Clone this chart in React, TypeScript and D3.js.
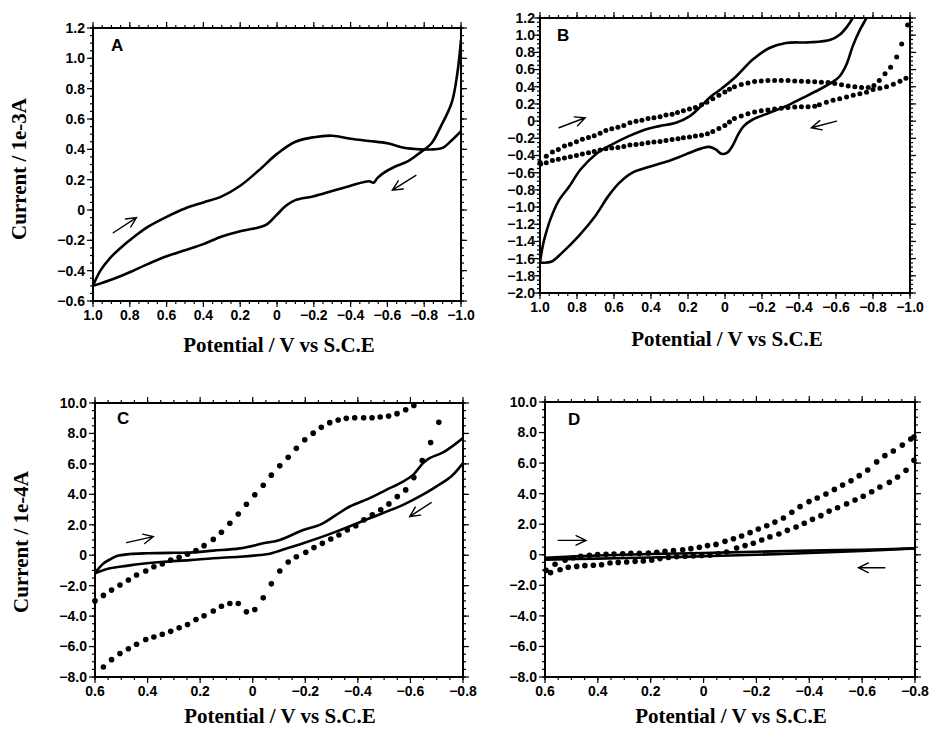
import React from 'react'
import * as d3 from 'd3'

type Pt = [number, number]

// ---- tick labels ----
const abXTicks = [1.0, 0.8, 0.6, 0.4, 0.2, 0, -0.2, -0.4, -0.6, -0.8, -1.0]
const aYTicks = [1.2, 1.0, 0.8, 0.6, 0.4, 0.2, 0, -0.2, -0.4, -0.6]
const bYTicks = [1.2, 1.0, 0.8, 0.6, 0.4, 0.2, 0, -0.2, -0.4, -0.6, -0.8, -1.0, -1.2, -1.4, -1.6, -1.8, -2.0]
const cdXTicks = [0.6, 0.4, 0.2, 0, -0.2, -0.4, -0.6, -0.8]
const cdYTicks = [10, 8, 6, 4, 2, 0, -2, -4, -6, -8]

// ---- panel A (current in 1e-3 A) ----
const aForward: Pt[] = [[1.0,-0.5],[0.96,-0.40],[0.91,-0.32],[0.85,-0.25],[0.78,-0.18],[0.7,-0.11],[0.6,-0.045],[0.5,0.01],[0.4,0.05],[0.3,0.09],[0.2,0.16],[0.1,0.26],[0.0,0.37],[-0.1,0.45],[-0.2,0.48],[-0.3,0.49],[-0.4,0.47],[-0.5,0.455],[-0.6,0.44],[-0.69,0.41],[-0.78,0.40],[-0.85,0.40],[-0.9,0.41],[-0.95,0.46],[-1.0,0.52]]
const aReverse: Pt[] = [[-1.0,1.12],[-0.98,0.90],[-0.95,0.71],[-0.89,0.55],[-0.84,0.44],[-0.78,0.38],[-0.71,0.32],[-0.64,0.285],[-0.58,0.245],[-0.545,0.21],[-0.525,0.18],[-0.5,0.19],[-0.4,0.16],[-0.3,0.125],[-0.2,0.09],[-0.1,0.065],[-0.05,0.03],[0.0,-0.03],[0.055,-0.095],[0.1,-0.115],[0.16,-0.13],[0.2,-0.14],[0.3,-0.175],[0.4,-0.225],[0.5,-0.265],[0.6,-0.305],[0.7,-0.355],[0.8,-0.41],[0.89,-0.455],[1.0,-0.5]]
const aArrows = [[0.89,-0.15,0.764,-0.05],[-0.755,0.228,-0.627,0.131]]

// ---- panel B (current in 1e-3 A) ----
const bForward: Pt[] = [[1.0,-1.645],[0.985,-1.45],[0.97,-1.32],[0.94,-1.12],[0.9,-0.93],[0.84,-0.755],[0.78,-0.56],[0.69,-0.37],[0.61,-0.27],[0.52,-0.174],[0.43,-0.097],[0.355,-0.058],[0.265,-0.019],[0.19,0.058],[0.13,0.174],[0.075,0.29],[0.03,0.36],[-0.06,0.52],[-0.15,0.716],[-0.24,0.851],[-0.33,0.91],[-0.46,0.917],[-0.57,0.948],[-0.62,1.006],[-0.66,1.10],[-0.69,1.2],[-0.72,1.34]]
const bReverse: Pt[] = [[-0.80,1.34],[-0.765,1.2],[-0.73,1.064],[-0.69,0.87],[-0.66,0.677],[-0.62,0.522],[-0.58,0.453],[-0.51,0.368],[-0.42,0.27],[-0.33,0.174],[-0.24,0.097],[-0.15,0.019],[-0.1,-0.06],[-0.07,-0.16],[-0.04,-0.29],[-0.01,-0.37],[0.02,-0.38],[0.05,-0.33],[0.085,-0.30],[0.13,-0.32],[0.17,-0.35],[0.25,-0.42],[0.30,-0.46],[0.39,-0.52],[0.5,-0.6],[0.57,-0.716],[0.63,-0.87],[0.70,-1.10],[0.79,-1.335],[0.88,-1.53],[0.94,-1.637],[1.0,-1.645]]
const bDotsForward: Pt[] = [[1.0,-0.48],[0.966,-0.41],[0.933,-0.36],[0.901,-0.33],[0.868,-0.29],[0.836,-0.27],[0.803,-0.24],[0.771,-0.21],[0.738,-0.19],[0.707,-0.17],[0.675,-0.14],[0.644,-0.11],[0.612,-0.09],[0.579,-0.07],[0.547,-0.05],[0.514,-0.02],[0.481,0.0],[0.449,0.01],[0.416,0.03],[0.384,0.04],[0.351,0.05],[0.319,0.07],[0.286,0.08],[0.257,0.1],[0.225,0.12],[0.192,0.14],[0.16,0.16],[0.127,0.19],[0.098,0.22],[0.066,0.26],[0.033,0.3],[0.001,0.34],[-0.024,0.37],[-0.051,0.40],[-0.088,0.425],[-0.124,0.445],[-0.16,0.46],[-0.196,0.468],[-0.232,0.472],[-0.268,0.472],[-0.304,0.472],[-0.341,0.472],[-0.377,0.468],[-0.413,0.464],[-0.449,0.46],[-0.485,0.457],[-0.521,0.453],[-0.557,0.449],[-0.593,0.437],[-0.63,0.422],[-0.666,0.41],[-0.702,0.40],[-0.738,0.39],[-0.774,0.39],[-0.805,0.414],[-0.834,0.472],[-0.865,0.55],[-0.895,0.627],[-0.928,0.747],[-0.955,0.898],[-0.987,1.12]]
const bDotsReverse: Pt[] = [[-0.978,0.50],[-0.946,0.464],[-0.91,0.43],[-0.873,0.40],[-0.837,0.383],[-0.80,0.367],[-0.765,0.337],[-0.729,0.32],[-0.693,0.30],[-0.657,0.28],[-0.62,0.26],[-0.584,0.244],[-0.548,0.22],[-0.51,0.19],[-0.485,0.174],[-0.449,0.166],[-0.413,0.166],[-0.377,0.165],[-0.34,0.158],[-0.304,0.15],[-0.268,0.14],[-0.232,0.13],[-0.196,0.12],[-0.16,0.105],[-0.124,0.085],[-0.088,0.06],[-0.051,0.03],[-0.024,-0.01],[0.001,-0.05],[0.033,-0.085],[0.066,-0.12],[0.095,-0.147],[0.127,-0.163],[0.16,-0.174],[0.192,-0.186],[0.225,-0.194],[0.254,-0.205],[0.286,-0.213],[0.319,-0.224],[0.351,-0.236],[0.384,-0.244],[0.416,-0.252],[0.449,-0.263],[0.481,-0.271],[0.514,-0.279],[0.547,-0.294],[0.579,-0.306],[0.612,-0.313],[0.644,-0.321],[0.675,-0.337],[0.707,-0.352],[0.738,-0.368],[0.771,-0.383],[0.803,-0.399],[0.836,-0.414],[0.868,-0.43],[0.901,-0.445],[0.933,-0.457],[0.966,-0.484],[0.996,-0.5]]
const bArrows = [[0.897,-0.077,0.756,0.039],[-0.603,0.0,-0.467,-0.077]]

// ---- panel C (current in 1e-4 A) ----
const cUpper: Pt[] = [[0.6,-1.19],[0.585,-0.85],[0.568,-0.54],[0.54,-0.25],[0.517,-0.05],[0.467,0.08],[0.40,0.13],[0.3,0.16],[0.239,0.17],[0.15,0.3],[0.049,0.45],[-0.04,0.78],[-0.103,1.0],[-0.192,1.66],[-0.255,1.99],[-0.318,2.65],[-0.369,3.2],[-0.445,3.75],[-0.508,4.29],[-0.572,4.84],[-0.61,5.28],[-0.648,6.05],[-0.673,6.38],[-0.724,6.75],[-0.8,7.7]]
const cLower: Pt[] = [[0.6,-1.19],[0.543,-0.86],[0.48,-0.7],[0.429,-0.58],[0.35,-0.45],[0.239,-0.32],[0.15,-0.2],[0.049,-0.1],[-0.03,0.02],[-0.065,0.1],[-0.103,0.3],[-0.192,0.78],[-0.318,1.55],[-0.445,2.43],[-0.572,3.31],[-0.635,3.86],[-0.698,4.51],[-0.755,5.17],[-0.8,6.05]]
const cDotsForward: Pt[] = [[0.6,-3.0],[0.568,-2.64],[0.537,-2.29],[0.505,-1.96],[0.473,-1.63],[0.442,-1.30],[0.407,-1.04],[0.376,-0.76],[0.344,-0.58],[0.312,-0.32],[0.280,-0.14],[0.248,0.06],[0.216,0.30],[0.185,0.63],[0.150,1.04],[0.119,1.51],[0.087,2.10],[0.055,2.71],[0.024,3.35],[-0.008,3.97],[-0.040,4.60],[-0.071,5.26],[-0.103,5.87],[-0.135,6.44],[-0.166,7.02],[-0.198,7.59],[-0.230,8.02],[-0.261,8.40],[-0.293,8.71],[-0.325,8.88],[-0.356,8.99],[-0.388,9.03],[-0.422,9.03],[-0.454,9.03],[-0.485,9.08],[-0.517,9.14],[-0.549,9.30],[-0.582,9.56],[-0.613,9.84]]
const cDotsReverse: Pt[] = [[-0.708,8.73],[-0.677,7.41],[-0.645,6.22],[-0.613,5.10],[-0.582,4.29],[-0.550,3.85],[-0.518,3.37],[-0.487,2.98],[-0.455,2.65],[-0.423,2.32],[-0.392,1.94],[-0.360,1.66],[-0.328,1.33],[-0.297,1.07],[-0.265,0.78],[-0.233,0.50],[-0.202,0.19],[-0.166,-0.10],[-0.135,-0.45],[-0.103,-1.04],[-0.071,-1.88],[-0.040,-2.80],[-0.008,-3.57],[0.024,-3.72],[0.055,-3.17],[0.087,-3.17],[0.119,-3.35],[0.150,-3.66],[0.185,-3.98],[0.216,-4.22],[0.248,-4.55],[0.280,-4.77],[0.312,-5.00],[0.344,-5.19],[0.376,-5.37],[0.407,-5.54],[0.442,-5.85],[0.473,-6.14],[0.505,-6.46],[0.537,-6.86],[0.568,-7.34]]
const cArrows = [[0.48,0.83,0.378,1.22],[-0.679,3.46,-0.597,2.54]]

// ---- panel D (current in 1e-4 A) ----
const dUpper: Pt[] = [[0.6,-0.2],[0.4,-0.05],[0.2,0.05],[0.0,0.12],[-0.2,0.2],[-0.4,0.27],[-0.6,0.33],[-0.8,0.42]]
const dLower: Pt[] = [[0.6,-0.32],[0.4,-0.25],[0.2,-0.18],[0.0,-0.1],[-0.2,0.0],[-0.4,0.12],[-0.6,0.25],[-0.8,0.42]]
const dDotsForward: Pt[] = [[0.596,-1.02],[0.562,-0.62],[0.524,-0.36],[0.493,-0.19],[0.465,-0.10],[0.432,-0.04],[0.401,0.01],[0.369,0.03],[0.339,0.05],[0.306,0.07],[0.275,0.09],[0.243,0.09],[0.209,0.12],[0.177,0.16],[0.146,0.22],[0.114,0.27],[0.079,0.33],[0.048,0.40],[0.016,0.49],[-0.015,0.60],[-0.047,0.68],[-0.081,0.88],[-0.113,1.05],[-0.144,1.23],[-0.176,1.45],[-0.207,1.69],[-0.239,1.90],[-0.270,2.14],[-0.302,2.41],[-0.334,2.78],[-0.365,3.15],[-0.399,3.48],[-0.430,3.72],[-0.463,3.98],[-0.495,4.28],[-0.526,4.57],[-0.558,4.85],[-0.589,5.18],[-0.621,5.55],[-0.655,6.08],[-0.686,6.49],[-0.718,6.79],[-0.752,7.18],[-0.784,7.58],[-0.796,7.71]]
const dDotsReverse: Pt[] = [[-0.796,6.18],[-0.766,5.53],[-0.734,5.09],[-0.703,4.74],[-0.667,4.44],[-0.636,4.13],[-0.604,3.83],[-0.573,3.59],[-0.541,3.33],[-0.507,3.08],[-0.475,2.86],[-0.444,2.56],[-0.412,2.32],[-0.381,2.06],[-0.350,1.82],[-0.317,1.60],[-0.285,1.36],[-0.251,1.17],[-0.220,0.97],[-0.188,0.75],[-0.157,0.60],[-0.125,0.44],[-0.087,0.18],[-0.056,0.07],[-0.024,-0.02],[0.007,-0.04],[0.039,-0.08],[0.070,-0.10],[0.102,-0.12],[0.133,-0.17],[0.165,-0.25],[0.196,-0.36],[0.228,-0.41],[0.259,-0.43],[0.291,-0.47],[0.323,-0.50],[0.354,-0.54],[0.386,-0.65],[0.417,-0.69],[0.449,-0.71],[0.480,-0.76],[0.512,-0.82],[0.543,-0.98],[0.579,-1.17]]
const dArrows = [[0.55,0.94,0.445,0.94],[-0.686,-0.85,-0.586,-0.85]]

const fmt = (v: number) => (Math.abs(v) < 1e-9 ? '0' : d3.format('.1f')(v))
const sansBold = '"Liberation Sans", Arial, sans-serif'
const serifBold = '"Liberation Serif", "Times New Roman", serif'

type PanelProps = {
  id: string
  box: { l: number; r: number; t: number; b: number }
  xDomain: [number, number]
  yDomain: [number, number]
  xTicks: number[]
  yTicks: number[]
  xMinor: number
  yMinor: number
  label: string
  labelPos: [number, number]
  lines: Pt[][]
  dots: Pt[][]
  dotR: number
  arrows: number[][]
  yGap: number
}

function Panel(p: PanelProps) {
  const { l, r, t, b } = p.box
  const x = d3.scaleLinear().domain(p.xDomain).range([l, r])
  const y = d3.scaleLinear().domain(p.yDomain).range([b, t])
  const line = d3.line<Pt>().x(d => x(d[0])).y(d => y(d[1])).curve(d3.curveCatmullRom.alpha(0.5))

  const xlo = Math.min(...p.xDomain), xhi = Math.max(...p.xDomain)
  const ylo = Math.min(...p.yDomain), yhi = Math.max(...p.yDomain)
  const xMinor = d3.range(Math.round(xlo / p.xMinor), Math.round(xhi / p.xMinor) + 1).map(k => k * p.xMinor)
  const yMinor = d3.range(Math.round(ylo / p.yMinor), Math.round(yhi / p.yMinor) + 1).map(k => k * p.yMinor)

  const major = 6, minor = 3
  const clipId = `clip-${p.id}`

  return (
    <g>
      <defs>
        <clipPath id={clipId}>
          <rect x={l} y={t} width={r - l} height={b - t} />
        </clipPath>
      </defs>
      {/* ticks on all four sides, pointing outward */}
      <g stroke="#000" strokeWidth={1.2}>
        {xMinor.map((v, i) => (
          <g key={'xm' + i}>
            <line x1={x(v)} x2={x(v)} y1={b} y2={b + minor} />
            <line x1={x(v)} x2={x(v)} y1={t} y2={t - minor} />
          </g>
        ))}
        {yMinor.map((v, i) => (
          <g key={'ym' + i}>
            <line x1={l} x2={l - minor} y1={y(v)} y2={y(v)} />
            <line x1={r} x2={r + minor} y1={y(v)} y2={y(v)} />
          </g>
        ))}
        {p.xTicks.map((v, i) => (
          <g key={'xM' + i}>
            <line x1={x(v)} x2={x(v)} y1={b} y2={b + major} />
            <line x1={x(v)} x2={x(v)} y1={t} y2={t - major} />
          </g>
        ))}
        {p.yTicks.map((v, i) => (
          <g key={'yM' + i}>
            <line x1={l} x2={l - major} y1={y(v)} y2={y(v)} />
            <line x1={r} x2={r + major} y1={y(v)} y2={y(v)} />
          </g>
        ))}
      </g>
      <rect x={l} y={t} width={r - l} height={b - t} fill="none" stroke="#000" strokeWidth={2} />

      <g fontFamily={sansBold} fontWeight="bold" fontSize={14} fill="#000">
        {p.xTicks.map((v, i) => (
          <text key={'xl' + i} x={x(v)} y={b + 19} textAnchor="middle">{fmt(v)}</text>
        ))}
        {p.yTicks.map((v, i) => (
          <text key={'yl' + i} x={l - p.yGap} y={y(v)} dy="0.35em" textAnchor="end">{fmt(v)}</text>
        ))}
      </g>

      <g clipPath={`url(#${clipId})`} fill="none" stroke="#000" strokeWidth={2.6} strokeLinejoin="round" strokeLinecap="round">
        {p.lines.map((s, i) => <path key={'ln' + i} d={line(s) ?? ''} />)}
      </g>
      <g fill="#000">
        {p.dots.map((s, i) => s.map((d, j) => (
          <circle key={`dt${i}-${j}`} cx={x(d[0])} cy={y(d[1])} r={p.dotR} />
        )))}
      </g>

      <g stroke="#000" strokeWidth={1.4} fill="none" strokeLinecap="round">
        {p.arrows.map((a, i) => {
          const x1 = x(a[0]), y1 = y(a[1]), x2 = x(a[2]), y2 = y(a[3])
          const ang = Math.atan2(y2 - y1, x2 - x1)
          const hl = 11, ha = 0.45
          const h1 = [x2 - hl * Math.cos(ang - ha), y2 - hl * Math.sin(ang - ha)]
          const h2 = [x2 - hl * Math.cos(ang + ha), y2 - hl * Math.sin(ang + ha)]
          return (
            <path key={'ar' + i} d={`M${x1},${y1}L${x2},${y2}M${h1[0]},${h1[1]}L${x2},${y2}L${h2[0]},${h2[1]}`} />
          )
        })}
      </g>

      <text x={p.labelPos[0]} y={p.labelPos[1]} fontFamily={sansBold} fontWeight="bold" fontSize={17}>{p.label}</text>
    </g>
  )
}

export default function App() {
  return (
    <svg width={929} height={730} viewBox="0 0 929 730"
      style={{ position: 'absolute', left: 0, top: 0, background: '#fff' }}>
      <rect width={929} height={730} fill="#fff" />
      <Panel id="a" box={{ l: 93, r: 461, t: 28, b: 301 }} xDomain={[1, -1]} yDomain={[-0.6, 1.2]}
        xTicks={abXTicks} yTicks={aYTicks} xMinor={0.05} yMinor={0.05} label="A" labelPos={[111, 51]}
        lines={[aForward, aReverse]} dots={[]} dotR={2.5} arrows={aArrows} yGap={8} />
      <Panel id="b" box={{ l: 540, r: 910, t: 18, b: 293 }} xDomain={[1, -1]} yDomain={[-2.0, 1.2]}
        xTicks={abXTicks} yTicks={bYTicks} xMinor={0.05} yMinor={0.05} label="B" labelPos={[557, 41]}
        lines={[bForward, bReverse]} dots={[bDotsForward, bDotsReverse]} dotR={2.5} arrows={bArrows} yGap={5} />
      <Panel id="c" box={{ l: 95, r: 463, t: 403, b: 677 }} xDomain={[0.6, -0.8]} yDomain={[-8, 10]}
        xTicks={cdXTicks} yTicks={cdYTicks} xMinor={0.05} yMinor={0.5} label="C" labelPos={[117, 424]}
        lines={[cUpper, cLower]} dots={[cDotsForward, cDotsReverse]} dotR={2.8} arrows={cArrows} yGap={8} />
      <Panel id="d" box={{ l: 545, r: 915, t: 402, b: 677 }} xDomain={[0.6, -0.8]} yDomain={[-8, 10]}
        xTicks={cdXTicks} yTicks={cdYTicks} xMinor={0.05} yMinor={0.5} label="D" labelPos={[568, 425]}
        lines={[dUpper, dLower]} dots={[dDotsForward, dDotsReverse]} dotR={2.8} arrows={dArrows} yGap={8} />

      <g fontFamily={serifBold} fontWeight="bold" fontSize={21} textAnchor="middle" fill="#000">
        <text x={279} y={352}>Potential / V vs S.C.E</text>
        <text x={727} y={346}>Potential / V vs S.C.E</text>
        <text x={280} y={723}>Potential / V vs S.C.E</text>
        <text x={731} y={723}>Potential / V vs S.C.E</text>
        <text transform="translate(26,169) rotate(-90)">Current / 1e-3A</text>
        <text transform="translate(28,542) rotate(-90)">Current / 1e-4A</text>
      </g>
    </svg>
  )
}
